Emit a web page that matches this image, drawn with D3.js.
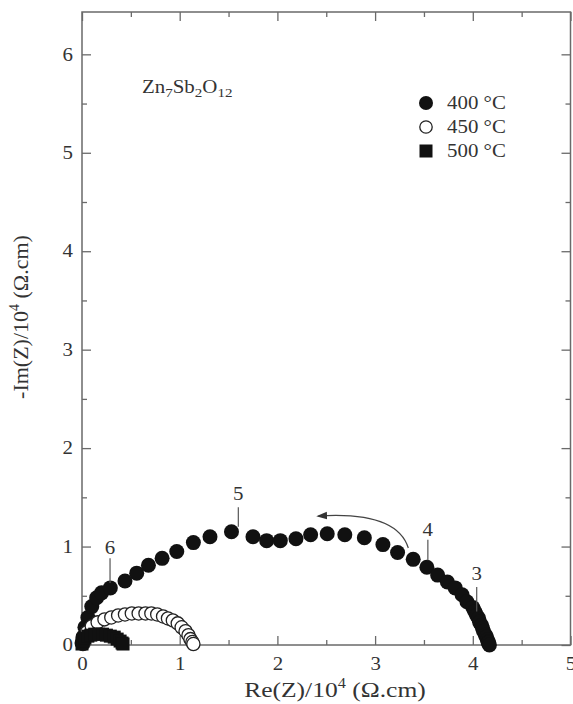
<!DOCTYPE html>
<html>
<head>
<meta charset="utf-8">
<script src="https://cdn.jsdelivr.net/npm/d3@7"></script>
<style>
  body { margin: 0; background: #fff; }
  svg { display: block; }
  text { font-family: "Liberation Serif", "Times New Roman", serif; fill: #333; }
</style>
</head>
<body>
<svg id="chart" width="573" height="704"></svg>
<script>
// Impedance spectra (Nyquist plot), Zn7Sb2O12, values in 10^4 ohm.cm
const xTicks = [0, 1, 2, 3, 4, 5];
const yTicks = [0, 1, 2, 3, 4, 5, 6];
const xMinorTicks = [0.5, 1.5, 2.5, 3.5, 4.5];
const yMinorTicks = [0.5, 1.5, 2.5, 3.5, 4.5, 5.5];
const seriesLabels = ["400 °C", "450 °C", "500 °C"];

// 400 °C
const re400 = [0.00, 0.01, 0.03, 0.06, 0.10, 0.15, 0.20, 0.29, 0.44, 0.56, 0.68, 0.82, 0.97, 1.14, 1.31, 1.53,
  1.75, 1.89, 2.03, 2.19, 2.34, 2.51, 2.69, 2.89, 3.08, 3.23, 3.39, 3.53, 3.64, 3.74, 3.82, 3.89, 3.94,
  4.00, 4.02, 4.04, 4.06, 4.07, 4.09, 4.10, 4.11, 4.13, 4.14, 4.15, 4.16, 4.16, 4.17];
const im400 = [0.02, 0.08, 0.18, 0.28, 0.39, 0.48, 0.53, 0.58, 0.65, 0.73, 0.81, 0.88, 0.95, 1.04, 1.10, 1.15,
  1.10, 1.06, 1.06, 1.08, 1.12, 1.13, 1.12, 1.09, 1.02, 0.94, 0.87, 0.79, 0.71, 0.64, 0.58, 0.51, 0.44,
  0.38, 0.34, 0.30, 0.27, 0.23, 0.20, 0.17, 0.14, 0.10, 0.08, 0.05, 0.03, 0.02, 0.00];

// 450 °C
const re450 = [0.01, 0.02, 0.05, 0.10, 0.16, 0.23, 0.30, 0.37, 0.44, 0.51, 0.58, 0.65, 0.71, 0.77, 0.83,
  0.88, 0.93, 0.98, 1.02, 1.06, 1.09, 1.11, 1.13, 1.14];
const im450 = [0.01, 0.06, 0.13, 0.19, 0.23, 0.26, 0.28, 0.30, 0.31, 0.32, 0.32, 0.32, 0.32, 0.31, 0.29,
  0.27, 0.25, 0.22, 0.18, 0.14, 0.10, 0.06, 0.03, 0.01];

// 500 °C
const re500 = [0.00, 0.01, 0.03, 0.06, 0.09, 0.13, 0.17, 0.21, 0.25, 0.29, 0.33, 0.36, 0.39, 0.41, 0.42];
const im500 = [0.01, 0.04, 0.07, 0.09, 0.10, 0.11, 0.11, 0.11, 0.10, 0.09, 0.08, 0.06, 0.04, 0.02, 0.01];

// Frequency-decade markers: label, Re position, line bottom/top (Im), label baseline (Im)
const decadeLabels = ["6", "5", "4", "3"];
const decadeRe = [0.287, 1.60, 3.54, 4.04];
const decadeLineLow = [0.63, 1.20, 0.86, 0.34];
const decadeLineHigh = [0.88, 1.40, 1.07, 0.59];
const decadeTextIm = [0.92, 1.47, 1.11, 0.66];

// Arrow showing the direction of increasing frequency
const arrowRe = [3.34, 3.22, 2.42];
const arrowIm = [0.985, 1.36, 1.31];

const W = 573, H = 704;
const margin = { top: 12, right: 2.5, bottom: 59, left: 82 };
const svg = d3.select("#chart");
const innerW = W - margin.left - margin.right;
const innerH = H - margin.top - margin.bottom;

const x = d3.scaleLinear().domain([0, 5]).range([margin.left, margin.left + innerW]);
const y = d3.scaleLinear().domain([0, 6.43]).range([margin.top + innerH, margin.top]);

const axisColor = "#6a6a6a";
const stretch = 1.16;   // horizontal text proportion

function styleAxis(g) {
  g.select(".domain").remove();
  g.selectAll("line").attr("stroke", axisColor).attr("stroke-width", 1.3);
  g.selectAll("text").attr("font-size", 18).attr("fill", "#333")
    .attr("font-family", '"Liberation Serif", serif');
}

// bottom / top
svg.append("g").attr("transform", `translate(0,${y(0)})`)
  .call(d3.axisBottom(x).tickValues(xTicks).tickSize(-9).tickPadding(12).tickFormat(d3.format("d")))
  .call(styleAxis);
svg.append("g").attr("transform", `translate(0,${y(0)})`)
  .call(d3.axisBottom(x).tickValues(xMinorTicks).tickSize(-5).tickFormat(""))
  .call(styleAxis);
svg.append("g").attr("transform", `translate(0,${margin.top})`)
  .call(d3.axisTop(x).tickValues(xTicks).tickSize(-9).tickFormat(""))
  .call(styleAxis);
svg.append("g").attr("transform", `translate(0,${margin.top})`)
  .call(d3.axisTop(x).tickValues(xMinorTicks).tickSize(-5).tickFormat(""))
  .call(styleAxis);
// left / right
svg.append("g").attr("transform", `translate(${x(0)},0)`)
  .call(d3.axisLeft(y).tickValues(yTicks).tickSize(-9).tickPadding(9).tickFormat(d3.format("d")))
  .call(styleAxis);
svg.append("g").attr("transform", `translate(${x(0)},0)`)
  .call(d3.axisLeft(y).tickValues(yMinorTicks).tickSize(-5).tickFormat(""))
  .call(styleAxis);
svg.append("g").attr("transform", `translate(${x(5)},0)`)
  .call(d3.axisRight(y).tickValues(yTicks).tickSize(-9).tickFormat(""))
  .call(styleAxis);
svg.append("g").attr("transform", `translate(${x(5)},0)`)
  .call(d3.axisRight(y).tickValues(yMinorTicks).tickSize(-5).tickFormat(""))
  .call(styleAxis);

// frame
svg.append("rect")
  .attr("x", x(0)).attr("y", y(6.43))
  .attr("width", x(5) - x(0)).attr("height", y(0) - y(6.43))
  .attr("fill", "none").attr("stroke", axisColor).attr("stroke-width", 1.5);

// series
const pts400 = re400.map((r, i) => [r, im400[i]]);
const pts450 = re450.map((r, i) => [r, im450[i]]);
const pts500 = re500.map((r, i) => [r, im500[i]]);

svg.append("g").selectAll("circle").data(pts400).join("circle")
  .attr("cx", d => x(d[0])).attr("cy", d => y(d[1])).attr("r", 7.5)
  .attr("fill", "#111");

svg.append("g").selectAll("circle").data(pts450).join("circle")
  .attr("cx", d => x(d[0])).attr("cy", d => y(d[1])).attr("r", 6.6)
  .attr("fill", "#fff").attr("stroke", "#222").attr("stroke-width", 1.3);

const sq = 13;
svg.append("g").selectAll("rect").data(pts500).join("rect")
  .attr("x", d => x(d[0]) - sq / 2).attr("y", d => y(d[1]) - sq / 2)
  .attr("width", sq).attr("height", sq).attr("fill", "#111");

// decade markers
const ann = svg.append("g");
decadeLabels.forEach((lab, i) => {
  ann.append("line")
    .attr("x1", x(decadeRe[i])).attr("x2", x(decadeRe[i]))
    .attr("y1", y(decadeLineLow[i])).attr("y2", y(decadeLineHigh[i]))
    .attr("stroke", "#555").attr("stroke-width", 1.2);
  ann.append("text").attr("class", "stretch")
    .attr("x", x(decadeRe[i])).attr("y", y(decadeTextIm[i]))
    .attr("text-anchor", "middle").attr("font-size", 18).text(lab);
});

// arrow
const defs = svg.append("defs");
defs.append("marker").attr("id", "head")
  .attr("viewBox", "0 0 10 10").attr("refX", 8).attr("refY", 5)
  .attr("markerWidth", 9).attr("markerHeight", 9).attr("orient", "auto")
  .append("path").attr("d", "M0,1.5 L10,5 L0,8.5 Z").attr("fill", "#333");
const ap = d3.path();
ap.moveTo(x(arrowRe[0]), y(arrowIm[0]));
ap.quadraticCurveTo(x(arrowRe[1]), y(arrowIm[1]), x(arrowRe[2]), y(arrowIm[2]));
svg.append("path").attr("d", ap.toString())
  .attr("fill", "none").attr("stroke", "#444").attr("stroke-width", 1.2)
  .attr("marker-end", "url(#head)");

// compound name
const title = svg.append("text").attr("class", "stretch")
  .attr("x", 142).attr("y", 93).attr("font-size", 18);
[["Zn", false], ["7", true], ["Sb", false], ["2", true], ["O", false], ["12", true]].forEach(([t, sub], i, arr) => {
  const prevSub = i > 0 && arr[i - 1][1];
  const ts = title.append("tspan").text(t);
  if (sub) ts.attr("font-size", 13).attr("dy", prevSub ? 0 : 4);
  else if (prevSub) ts.attr("dy", -4);
});

// legend
const lg = svg.append("g");
const lx = 426, ly = [103, 127, 151];
lg.append("circle").attr("cx", lx).attr("cy", ly[0]).attr("r", 7).attr("fill", "#111");
lg.append("circle").attr("cx", lx).attr("cy", ly[1]).attr("r", 6.2)
  .attr("fill", "#fff").attr("stroke", "#222").attr("stroke-width", 1.3);
lg.append("rect").attr("x", lx - 6.5).attr("y", ly[2] - 6.5).attr("width", 13).attr("height", 13).attr("fill", "#111");
seriesLabels.forEach((s, i) => {
  lg.append("text").attr("class", "stretch").attr("x", 447).attr("y", ly[i] + 5.5)
    .attr("font-size", 18).text(s);
});

// axis titles
const xt = svg.append("text").attr("class", "stretch")
  .attr("x", 335).attr("y", 697).attr("text-anchor", "middle").attr("font-size", 22);
xt.append("tspan").text("Re(Z)/10");
xt.append("tspan").text("4").attr("font-size", 14).attr("dy", -9);
xt.append("tspan").text(" (Ω.cm)").attr("dy", 9);

const yt = svg.append("text")
  .attr("transform", `translate(28,${317}) rotate(-90)`)
  .attr("text-anchor", "middle").attr("font-size", 22);
yt.append("tspan").text("-Im(Z)/10");
yt.append("tspan").text("4").attr("font-size", 14).attr("dy", -9);
yt.append("tspan").text(" (Ω.cm)").attr("dy", 9);

// widen horizontal text slightly
svg.selectAll(".tick text").classed("stretch", true);
svg.selectAll("text.stretch").each(function () {
  const len = this.getComputedTextLength();
  d3.select(this).attr("textLength", len * stretch).attr("lengthAdjust", "spacingAndGlyphs");
});
</script>
</body>
</html>
